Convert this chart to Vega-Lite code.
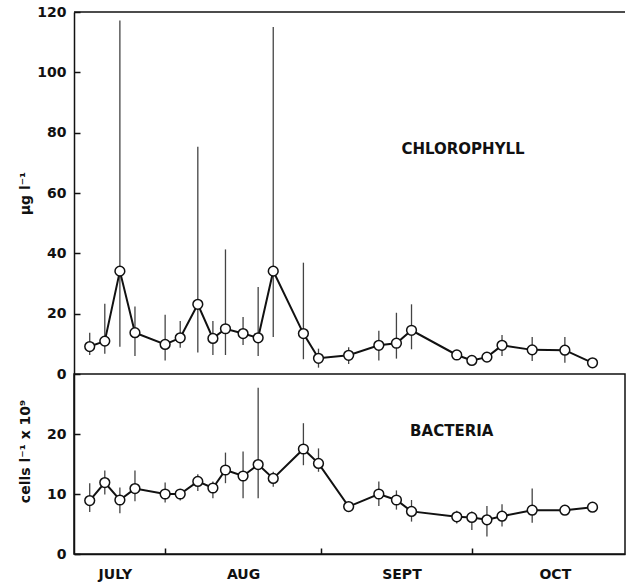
{
  "$schema": "https://vega.github.io/schema/vega-lite/v6.json",
  "padding": {"left": 17, "top": 5, "right": 1, "bottom": 0},
  "bounds": "flush",
  "config": {
    "view": {"stroke": null},
    "font": "DejaVu Sans",
    "axis": {
      "labelFont": "DejaVu Sans", "labelFontWeight": "bold", "labelFontSize": 14, "labelColor": "#111",
      "titleFont": "DejaVu Sans", "titleFontWeight": "bold", "titleFontSize": 14, "titleColor": "#111",
      "domainColor": "#111", "domainWidth": 1.5, "tickColor": "#111", "tickWidth": 1.5, "tickSize": -6,
      "grid": false, "labelPadding": 14
    },
    "concat": {"spacing": 0}
  },
  "datasets": {
    "obs": [
      {"date": "1977-07-17T00:00:00Z", "chl": 9.1, "chl_lo": 6.3, "chl_hi": 13.7, "bac": 8.9, "bac_lo": 7.0, "bac_hi": 11.8},
      {"date": "1977-07-20T00:00:00Z", "chl": 10.9, "chl_lo": 6.7, "chl_hi": 23.3, "bac": 11.9, "bac_lo": 9.9, "bac_hi": 13.9},
      {"date": "1977-07-23T00:00:00Z", "chl": 34.1, "chl_lo": 9.0, "chl_hi": 117.2, "bac": 9.0, "bac_lo": 6.8, "bac_hi": 11.1},
      {"date": "1977-07-26T00:00:00Z", "chl": 13.7, "chl_lo": 6.0, "chl_hi": 22.4, "bac": 10.9, "bac_lo": 8.8, "bac_hi": 13.9},
      {"date": "1977-08-01T00:00:00Z", "chl": 9.8, "chl_lo": 4.5, "chl_hi": 19.6, "bac": 10.0, "bac_lo": 8.6, "bac_hi": 11.9},
      {"date": "1977-08-04T00:00:00Z", "chl": 12.0, "chl_lo": 8.7, "chl_hi": 17.6, "bac": 10.0, "bac_lo": 8.9, "bac_hi": 10.7},
      {"date": "1977-08-07T12:00:00Z", "chl": 23.1, "chl_lo": 7.1, "chl_hi": 75.3, "bac": 12.1, "bac_lo": 10.5, "bac_hi": 13.3},
      {"date": "1977-08-10T12:00:00Z", "chl": 11.8, "chl_lo": 6.3, "chl_hi": 17.6, "bac": 11.0, "bac_lo": 9.3, "bac_hi": 12.1},
      {"date": "1977-08-13T00:00:00Z", "chl": 15.0, "chl_lo": 6.3, "chl_hi": 41.3, "bac": 14.0, "bac_lo": 11.8, "bac_hi": 16.9},
      {"date": "1977-08-16T12:00:00Z", "chl": 13.4, "chl_lo": 9.6, "chl_hi": 18.9, "bac": 13.0, "bac_lo": 9.3, "bac_hi": 17.1},
      {"date": "1977-08-19T12:00:00Z", "chl": 12.0, "chl_lo": 6.0, "chl_hi": 28.8, "bac": 14.9, "bac_lo": 9.3, "bac_hi": 27.7},
      {"date": "1977-08-22T12:00:00Z", "chl": 34.1, "chl_lo": 12.3, "chl_hi": 115.0, "bac": 12.6, "bac_lo": 11.2, "bac_hi": 13.7},
      {"date": "1977-08-28T12:00:00Z", "chl": 13.4, "chl_lo": 4.9, "chl_hi": 36.9, "bac": 17.5, "bac_lo": 14.8, "bac_hi": 21.8},
      {"date": "1977-08-31T12:00:00Z", "chl": 5.2, "chl_lo": 2.1, "chl_hi": 8.4, "bac": 15.1, "bac_lo": 13.7, "bac_hi": 17.6},
      {"date": "1977-09-06T12:00:00Z", "chl": 6.2, "chl_lo": 3.3, "chl_hi": 8.9, "bac": 7.9, "bac_lo": null, "bac_hi": null},
      {"date": "1977-09-12T12:00:00Z", "chl": 9.5, "chl_lo": 4.5, "chl_hi": 14.3, "bac": 10.0, "bac_lo": 8.0, "bac_hi": 12.1},
      {"date": "1977-09-16T00:00:00Z", "chl": 10.2, "chl_lo": 5.1, "chl_hi": 20.3, "bac": 9.0, "bac_lo": 7.4, "bac_hi": 10.6},
      {"date": "1977-09-19T00:00:00Z", "chl": 14.5, "chl_lo": 8.2, "chl_hi": 23.1, "bac": 7.1, "bac_lo": 5.4, "bac_hi": 9.0},
      {"date": "1977-09-28T00:00:00Z", "chl": 6.3, "chl_lo": null, "chl_hi": null, "bac": 6.2, "bac_lo": 5.1, "bac_hi": 7.2},
      {"date": "1977-10-01T00:00:00Z", "chl": 4.5, "chl_lo": null, "chl_hi": null, "bac": 6.1, "bac_lo": 4.0, "bac_hi": 7.1},
      {"date": "1977-10-04T00:00:00Z", "chl": 5.6, "chl_lo": null, "chl_hi": null, "bac": 5.7, "bac_lo": 2.9, "bac_hi": 8.0},
      {"date": "1977-10-07T00:00:00Z", "chl": 9.5, "chl_lo": 6.0, "chl_hi": 12.9, "bac": 6.3, "bac_lo": 4.6, "bac_hi": 8.3},
      {"date": "1977-10-13T00:00:00Z", "chl": 8.0, "chl_lo": 4.3, "chl_hi": 12.3, "bac": 7.3, "bac_lo": 5.2, "bac_hi": 10.9},
      {"date": "1977-10-19T12:00:00Z", "chl": 7.9, "chl_lo": 3.7, "chl_hi": 12.3, "bac": 7.3, "bac_lo": null, "bac_hi": null},
      {"date": "1977-10-25T00:00:00Z", "chl": 3.7, "chl_lo": null, "chl_hi": null, "bac": 7.8, "bac_lo": null, "bac_hi": null}
    ]
  },
  "resolve": {"scale": {"y": "independent"}},
  "vconcat": [
    {
      "width": 551,
      "height": 362,
      "layer": [
        {
          "data": {"name": "obs"},
          "transform": [{"filter": "isValid(datum.chl_lo)"}],
          "mark": {"type": "rule", "color": "#444", "strokeWidth": 1.3},
          "encoding": {
            "x": {"field": "date", "type": "temporal", "axis": null,
                  "scale": {"type": "utc", "domain": [{"year": 1977, "month": 7, "date": 13, "hours": 21, "utc": true}, {"year": 1977, "month": 10, "date": 31, "hours": 11, "utc": true}]}},
            "y": {"field": "chl_lo", "type": "quantitative",
                  "scale": {"domain": [0, 120], "nice": false},
                  "axis": {"title": "μg l⁻¹", "values": [0, 20, 40, 60, 80, 100, 120], "titleX": -49, "titleBaseline": "middle"}},
            "y2": {"field": "chl_hi"}
          }
        },
        {
          "data": {"name": "obs"},
          "mark": {"type": "line", "color": "#111", "strokeWidth": 2},
          "encoding": {
            "x": {"field": "date", "type": "temporal"},
            "y": {"field": "chl", "type": "quantitative"}
          }
        },
        {
          "data": {"name": "obs"},
          "mark": {"type": "point", "shape": "circle", "filled": true, "fill": "white", "stroke": "#111", "strokeWidth": 1.5, "size": 95, "opacity": 1},
          "encoding": {
            "x": {"field": "date", "type": "temporal"},
            "y": {"field": "chl", "type": "quantitative"}
          }
        },
        {
          "data": {"values": [{}]},
          "mark": {"type": "rule", "color": "#111", "strokeWidth": 1.5},
          "encoding": {"y": {"datum": 120, "type": "quantitative"}}
        },
        {
          "data": {"values": [{}]},
          "mark": {"type": "text", "text": "CHLOROPHYLL", "font": "DejaVu Sans", "fontWeight": "bold", "fontSize": 15, "color": "#111", "align": "center", "baseline": "middle"},
          "encoding": {
            "x": {"datum": {"year": 1977, "month": 9, "date": 29, "hours": 6, "utc": true}, "type": "temporal"},
            "y": {"datum": 74.6, "type": "quantitative"}
          }
        }
      ]
    },
    {
      "width": 551,
      "height": 180,
      "view": {"stroke": "#111", "strokeWidth": 1.5},
      "layer": [
        {
          "data": {"name": "obs"},
          "transform": [{"filter": "isValid(datum.bac_lo)"}],
          "mark": {"type": "rule", "color": "#444", "strokeWidth": 1.3},
          "encoding": {
            "x": {"field": "date", "type": "temporal",
                  "scale": {"type": "utc", "domain": [{"year": 1977, "month": 7, "date": 13, "hours": 21, "utc": true}, {"year": 1977, "month": 10, "date": 31, "hours": 11, "utc": true}]},
                  "axis": {
                    "title": null,
                    "values": [
                      {"year": 1977, "month": 7, "date": 22, "utc": true},
                      {"year": 1977, "month": 8, "date": 1, "utc": true},
                      {"year": 1977, "month": 8, "date": 16, "hours": 12, "utc": true},
                      {"year": 1977, "month": 9, "date": 1, "utc": true},
                      {"year": 1977, "month": 9, "date": 17, "utc": true},
                      {"year": 1977, "month": 10, "date": 1, "utc": true},
                      {"year": 1977, "month": 10, "date": 17, "hours": 12, "utc": true}
                    ],
                    "labelExpr": "utcdate(datum.value) == 1 ? '' : ['JULY', 'AUG', 'SEPT', 'OCT'][utcmonth(datum.value) - 6]",
                    "tickOpacity": {"condition": {"test": "utcdate(datum.value) == 1", "value": 1}, "value": 0},
                    "labelOverlap": false,
                    "labelBound": false,
                    "labelFlush": false,
                    "labelPadding": 19
                  }},
            "y": {"field": "bac_lo", "type": "quantitative",
                  "scale": {"domain": [0, 30], "nice": false},
                  "axis": {"title": "cells l⁻¹ x 10⁹", "values": [0, 10, 20], "titleX": -49, "titleY": 77, "titleBaseline": "middle"}},
            "y2": {"field": "bac_hi"}
          }
        },
        {
          "data": {"name": "obs"},
          "mark": {"type": "line", "color": "#111", "strokeWidth": 2},
          "encoding": {
            "x": {"field": "date", "type": "temporal"},
            "y": {"field": "bac", "type": "quantitative"}
          }
        },
        {
          "data": {"name": "obs"},
          "mark": {"type": "point", "shape": "circle", "filled": true, "fill": "white", "stroke": "#111", "strokeWidth": 1.5, "size": 95, "opacity": 1},
          "encoding": {
            "x": {"field": "date", "type": "temporal"},
            "y": {"field": "bac", "type": "quantitative"}
          }
        },
        {
          "data": {"values": [{}]},
          "mark": {"type": "text", "text": "BACTERIA", "font": "DejaVu Sans", "fontWeight": "bold", "fontSize": 15, "color": "#111", "align": "center", "baseline": "middle"},
          "encoding": {
            "x": {"datum": {"year": 1977, "month": 9, "date": 27, "utc": true}, "type": "temporal"},
            "y": {"datum": 20.5, "type": "quantitative"}
          }
        }
      ]
    }
  ]
}
